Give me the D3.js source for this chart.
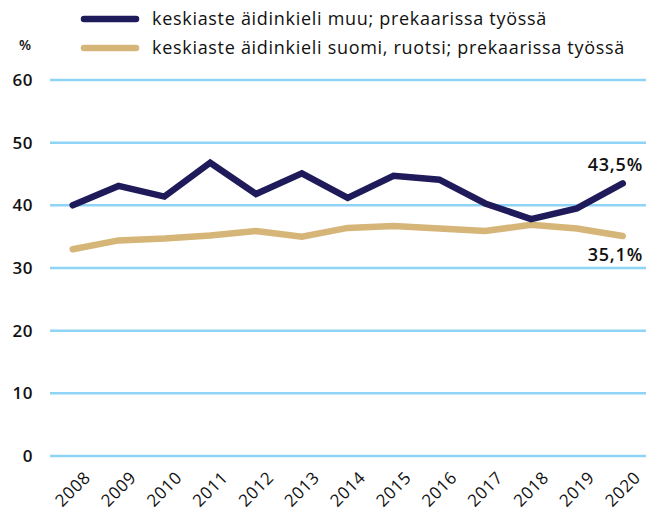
<!DOCTYPE html>
<html><head><meta charset="utf-8">
<script src="https://cdn.jsdelivr.net/npm/d3@7"></script>
<style>
html,body{margin:0;padding:0;background:#fff;}
svg{display:block;font-family:"Open Sans",Lato,sans-serif;}
</style></head>
<body><svg id="chart" width="646" height="510"></svg>
<script>
const years = [2008,2009,2010,2011,2012,2013,2014,2015,2016,2017,2018,2019,2020];
const muu = [40.0,43.1,41.4,46.8,41.8,45.1,41.2,44.7,44.1,40.3,37.8,39.5,43.5];
const suomiRuotsi = [33.0,34.4,34.7,35.2,35.9,35.0,36.4,36.7,36.3,35.9,36.9,36.3,35.1];
const yTicks = [0,10,20,30,40,50,60];
const seriesNames = ["keskiaste äidinkieli muu; prekaarissa työssä","keskiaste äidinkieli suomi, ruotsi; prekaarissa työssä"];
const endLabels = ["43,5%","35,1%"];
const colors = ["#1f1b5b","#d6b578"];

const svg = d3.select("#chart");
const x = d3.scalePoint().domain(years).range([72.7,622.7]);
const y = d3.scaleLinear().domain([0,60]).range([456,80]);

// grid
svg.append("g").selectAll("line").data(yTicks).join("line")
  .attr("x1",50).attr("x2",646).attr("y1",d=>y(d)).attr("y2",d=>y(d))
  .attr("stroke","#8fd4f7").attr("stroke-width",2.5);
// y labels
svg.append("g").selectAll("text").data(yTicks).join("text")
  .attr("x",33).attr("y",d=>y(d)).attr("dy","0.35em").attr("text-anchor","end")
  .attr("font-size",17).attr("font-weight",600).attr("letter-spacing",0.5).attr("fill","#111").text(d=>d);
svg.append("text").attr("x",25).attr("y",45).attr("dy","0.35em").attr("text-anchor","middle")
  .attr("font-size",14).attr("font-weight",600).attr("fill","#111").text("%");
// x labels
svg.append("g").selectAll("text").data(years).join("text")
  .attr("transform",d=>`translate(${x(d)},489) rotate(-45)`)
  .attr("text-anchor","middle").attr("dy","0.35em")
  .attr("font-size",17).attr("font-weight",500).attr("letter-spacing",0.6).attr("fill","#111").text(d=>d);

const line = d3.line().x((d,i)=>x(years[i])).y(d=>y(d));
[suomiRuotsi, muu].forEach((s,k)=>{
  const ci = k===0?1:0;
  svg.append("path").attr("d",line(s)).attr("fill","none")
    .attr("stroke",colors[ci]).attr("stroke-width",6.5)
    .attr("stroke-linejoin","miter").attr("stroke-linecap","round");
});
// end labels
svg.append("text").attr("x",643).attr("y",y(muu[12])-19).attr("dy","0.35em").attr("text-anchor","end")
  .attr("font-size",18).attr("font-weight",600).attr("letter-spacing",0.8).attr("fill","#111").text(endLabels[0]);
svg.append("text").attr("x",643).attr("y",y(suomiRuotsi[12])+19).attr("dy","0.35em").attr("text-anchor","end")
  .attr("font-size",18).attr("font-weight",600).attr("letter-spacing",0.8).attr("fill","#111").text(endLabels[1]);

// legend
const lg = svg.append("g");
[19,48].forEach((ly,i)=>{
  lg.append("line").attr("x1",84).attr("x2",136).attr("y1",ly).attr("y2",ly)
    .attr("stroke",colors[i]).attr("stroke-width",6.5).attr("stroke-linecap","round");
  lg.append("text").attr("x",152).attr("y",ly).attr("dy","0.35em")
    .attr("font-size",18).attr("letter-spacing",0.7).attr("fill","#111").text(seriesNames[i]);
});
</script></body></html>
